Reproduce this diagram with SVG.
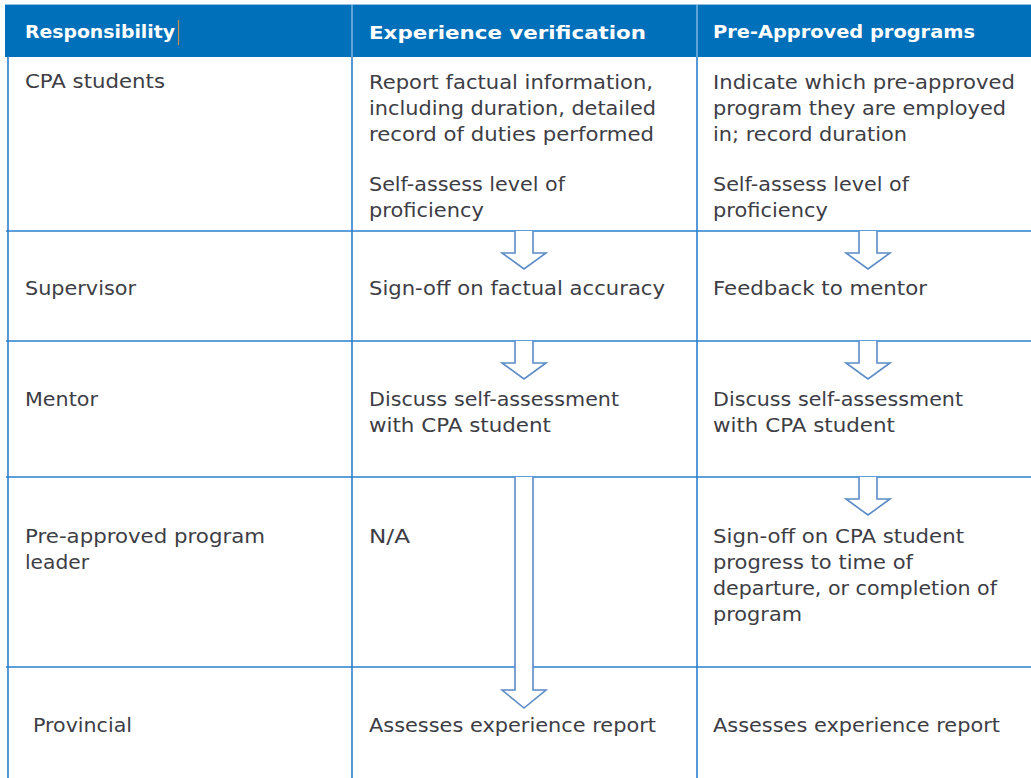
<svg xmlns="http://www.w3.org/2000/svg" width="1031" height="778" viewBox="0 0 1031 778">
<style>
.grid{stroke:#2a7fcc;stroke-width:1.6;fill:none}
.hd{font-family:"DejaVu Sans","Liberation Sans",sans-serif;font-weight:bold;font-size:18px;fill:#ffffff}
.tx{font-family:"DejaVu Sans","Liberation Sans",sans-serif;font-size:19px;fill:#3d3d45}
.arr{fill:#ffffff;stroke:#5b8bc7;stroke-width:1.6;stroke-linejoin:miter}
</style>
<defs>
<path id="shortArrow" class="arr" d="M-9,-1 V21 H-22 L0,37 L22,21 H9 V-1"/>
</defs>
<rect width="1031" height="778" fill="#ffffff"/>
<g id="header">
<rect x="5" y="4" width="1026" height="53" fill="#0070ba"/>
<line x1="5" y1="4.5" x2="1031" y2="4.5" stroke="#8fc0e6" stroke-width="1"/>
<line x1="352" y1="4" x2="352" y2="57" stroke="#9cc7ea" stroke-width="1.2"/>
<line x1="697" y1="4" x2="697" y2="57" stroke="#9cc7ea" stroke-width="1.2"/>
<text class="hd" x="25" y="38" textLength="150" lengthAdjust="spacingAndGlyphs">Responsibility</text>
<line x1="178.5" y1="20" x2="178.5" y2="45" stroke="#d08a4a" stroke-width="1.2"/>
<text class="hd" x="369" y="39" font-size="19px" textLength="277" lengthAdjust="spacingAndGlyphs">Experience verification</text>
<text class="hd" x="713" y="38" textLength="262" lengthAdjust="spacingAndGlyphs">Pre-Approved programs</text>
</g>
<g id="grid">
<line class="grid" x1="8" y1="57" x2="8" y2="778"/>
<line class="grid" x1="352" y1="57" x2="352" y2="778"/>
<line class="grid" x1="697" y1="57" x2="697" y2="778"/>
<line class="grid" x1="6" y1="231" x2="1031" y2="231"/>
<line class="grid" x1="6" y1="341" x2="1031" y2="341"/>
<line class="grid" x1="6" y1="477" x2="1031" y2="477"/>
<line class="grid" x1="6" y1="667" x2="1031" y2="667"/>
</g>
<g id="row-cpa" lengthAdjust="spacingAndGlyphs">
<text class="tx" x="25" y="88" textLength="140" lengthAdjust="spacingAndGlyphs">CPA students</text>
<text class="tx" x="369" y="89" textLength="284" lengthAdjust="spacingAndGlyphs">Report factual information,</text>
<text class="tx" x="369" y="115" textLength="287" lengthAdjust="spacingAndGlyphs">including duration, detailed</text>
<text class="tx" x="369" y="141" textLength="285" lengthAdjust="spacingAndGlyphs">record of duties performed</text>
<text class="tx" x="369" y="191" textLength="196" lengthAdjust="spacingAndGlyphs">Self-assess level of</text>
<text class="tx" x="369" y="217" textLength="115" lengthAdjust="spacingAndGlyphs">proficiency</text>
<text class="tx" x="713" y="89" textLength="302" lengthAdjust="spacingAndGlyphs">Indicate which pre-approved</text>
<text class="tx" x="713" y="115" textLength="293" lengthAdjust="spacingAndGlyphs">program they are employed</text>
<text class="tx" x="713" y="141" textLength="194" lengthAdjust="spacingAndGlyphs">in; record duration</text>
<text class="tx" x="713" y="191" textLength="196" lengthAdjust="spacingAndGlyphs">Self-assess level of</text>
<text class="tx" x="713" y="217" textLength="115" lengthAdjust="spacingAndGlyphs">proficiency</text>
</g>
<g id="row-supervisor">
<text class="tx" x="25" y="295" textLength="111" lengthAdjust="spacingAndGlyphs">Supervisor</text>
<text class="tx" x="369" y="295" textLength="296" lengthAdjust="spacingAndGlyphs">Sign-off on factual accuracy</text>
<text class="tx" x="713" y="295" textLength="214" lengthAdjust="spacingAndGlyphs">Feedback to mentor</text>
</g>
<g id="row-mentor">
<text class="tx" x="25" y="406" textLength="73" lengthAdjust="spacingAndGlyphs">Mentor</text>
<text class="tx" x="369" y="406" textLength="250" lengthAdjust="spacingAndGlyphs">Discuss self-assessment</text>
<text class="tx" x="369" y="432" textLength="182" lengthAdjust="spacingAndGlyphs">with CPA student</text>
<text class="tx" x="713" y="406" textLength="250" lengthAdjust="spacingAndGlyphs">Discuss self-assessment</text>
<text class="tx" x="713" y="432" textLength="182" lengthAdjust="spacingAndGlyphs">with CPA student</text>
</g>
<g id="row-leader">
<text class="tx" x="25" y="543" textLength="240" lengthAdjust="spacingAndGlyphs">Pre-approved program</text>
<text class="tx" x="25" y="569" textLength="64" lengthAdjust="spacingAndGlyphs">leader</text>
<text class="tx" x="369" y="543" textLength="41" lengthAdjust="spacingAndGlyphs">N/A</text>
<text class="tx" x="713" y="543" textLength="251" lengthAdjust="spacingAndGlyphs">Sign-off on CPA student</text>
<text class="tx" x="713" y="569" textLength="200" lengthAdjust="spacingAndGlyphs">progress to time of</text>
<text class="tx" x="713" y="595" textLength="284" lengthAdjust="spacingAndGlyphs">departure, or completion of</text>
<text class="tx" x="713" y="621" textLength="89" lengthAdjust="spacingAndGlyphs">program</text>
</g>
<g id="row-provincial">
<text class="tx" x="33" y="732" textLength="99" lengthAdjust="spacingAndGlyphs">Provincial</text>
<text class="tx" x="369" y="732" textLength="287" lengthAdjust="spacingAndGlyphs">Assesses experience report</text>
<text class="tx" x="713" y="732" textLength="287" lengthAdjust="spacingAndGlyphs">Assesses experience report</text>
</g>
<g id="connectors">
<use href="#shortArrow" x="524" y="232"/>
<use href="#shortArrow" x="868" y="232"/>
<use href="#shortArrow" x="524" y="342"/>
<use href="#shortArrow" x="868" y="342"/>
<use href="#shortArrow" x="868" y="478"/>
<path class="arr" d="M515,477 V690 H502 L524,708 L546,690 H533 V477"/>
</g>
</svg>
